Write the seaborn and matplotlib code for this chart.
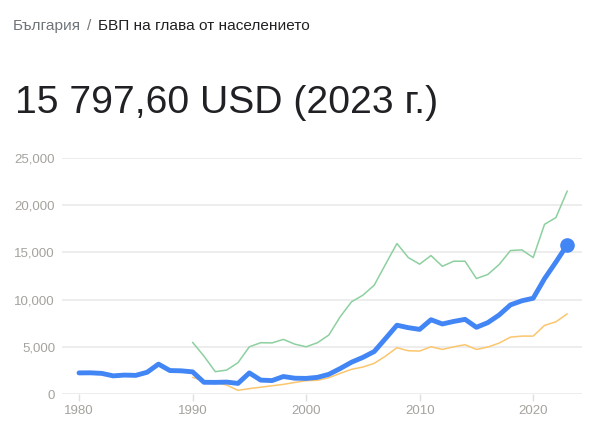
import numpy as np
import pandas as pd
import matplotlib
matplotlib.use("Agg")
import matplotlib.pyplot as plt
import seaborn as sns

# Data
years_bg = list(range(1980, 2024))
gdp_bg = [2260, 2270, 2210, 1950, 2030, 2000, 2330, 3190, 2510, 2480,
          2370, 1270, 1260, 1290, 1150, 2260, 1500, 1450, 1880, 1700,
          1680, 1790, 2110, 2720, 3390, 3900, 4520, 5900, 7300, 7040,
          6860, 7880, 7430, 7700, 7920, 7080, 7570, 8380, 9450, 9880,
          10150, 12220, 13970, 15797.6]

years_cmp = list(range(1990, 2024))
gdp_green = [5490, 4040, 2390, 2560, 3340, 5020, 5450, 5430, 5800, 5300,
             5020, 5450, 6260, 8190, 9770, 10470, 11530, 13750, 15930, 14450,
             13750, 14660, 13530, 14060, 14060, 12230, 12660, 13710, 15190, 15260,
             14450, 17960, 18670, 21480]
gdp_orange = [1790, 1440, 1270, 980, 420, 600, 750, 900, 1050, 1250,
              1440, 1480, 1750, 2210, 2640, 2880, 3270, 4040, 4920, 4600,
              4570, 5020, 4740, 5020, 5240, 4740, 4990, 5410, 6040, 6150,
              6150, 7280, 7660, 8500]

y_ticks = [0, 5000, 10000, 15000, 20000, 25000]
x_ticks = [1980, 1990, 2000, 2010, 2020]

crumb_country = "България"
crumb_sep = "/"
crumb_topic = "БВП на глава от населението"
headline = "15 797,60 USD (2023 г.)"

sns.set_style("white")
plt.rcParams["font.family"] = ["Liberation Sans", "DejaVu Sans"]

W, H = 593, 437
fig = plt.figure(figsize=(W / 100, H / 100), dpi=100)
ax = fig.add_axes([62 / W, (H - 394.3) / H, 520 / W, (394.3 - 157.7) / H])

df_bg = pd.DataFrame({"year": years_bg, "value": gdp_bg})
df_cmp = pd.DataFrame({"year": years_cmp, "green": gdp_green, "orange": gdp_orange})

for y in y_ticks:
    ax.axhline(y, color="#ececec", lw=1.3, zorder=0)

sns.lineplot(data=df_cmp, x="year", y="green", ax=ax, color="#8dd0a0", lw=1.1, zorder=2)
sns.lineplot(data=df_cmp, x="year", y="orange", ax=ax, color="#fbc66e", lw=1.1, zorder=2)
sns.lineplot(data=df_bg, x="year", y="value", ax=ax, color="#4285f4", lw=3.5, zorder=3,
             solid_joinstyle="round", solid_capstyle="round")
ax.plot(years_bg[-1], gdp_bg[-1], "o", color="#4285f4", ms=9.5, zorder=4, clip_on=False)

ax.set_xlim(1978.5, 2024.3)
ax.set_ylim(0, 25000)
ax.set_yticks(y_ticks)
ax.set_yticklabels([f"{v:,}" for v in y_ticks])
ax.set_xticks(x_ticks)
ax.set_xlabel("")
ax.set_ylabel("")
for s in ax.spines.values():
    s.set_visible(False)
ax.tick_params(axis="y", length=0, pad=5, labelsize=9.5, labelcolor="#a5a29e")
ax.tick_params(axis="x", length=5, width=1, color="#e0e0e0", pad=3, labelsize=9.5,
               labelcolor="#a5a29e", direction="out", bottom=True)

# Header texts
r = fig.canvas.get_renderer()
ty = 1 - 30 / H
t1 = fig.text(13 / W, ty, crumb_country, fontsize=11.1, color="#70757a")
bb = t1.get_window_extent(r)
t2 = fig.text((bb.x1 + 6) / W, ty, crumb_sep, fontsize=11.1, color="#70757a")
bb = t2.get_window_extent(r)
fig.text((bb.x1 + 7) / W, ty, crumb_topic, fontsize=11.1, color="#202124")
fig.text(15 / W, 1 - 113.3 / H, headline, fontsize=28.2, color="#202124")

fig.savefig("out.png", dpi=100)
